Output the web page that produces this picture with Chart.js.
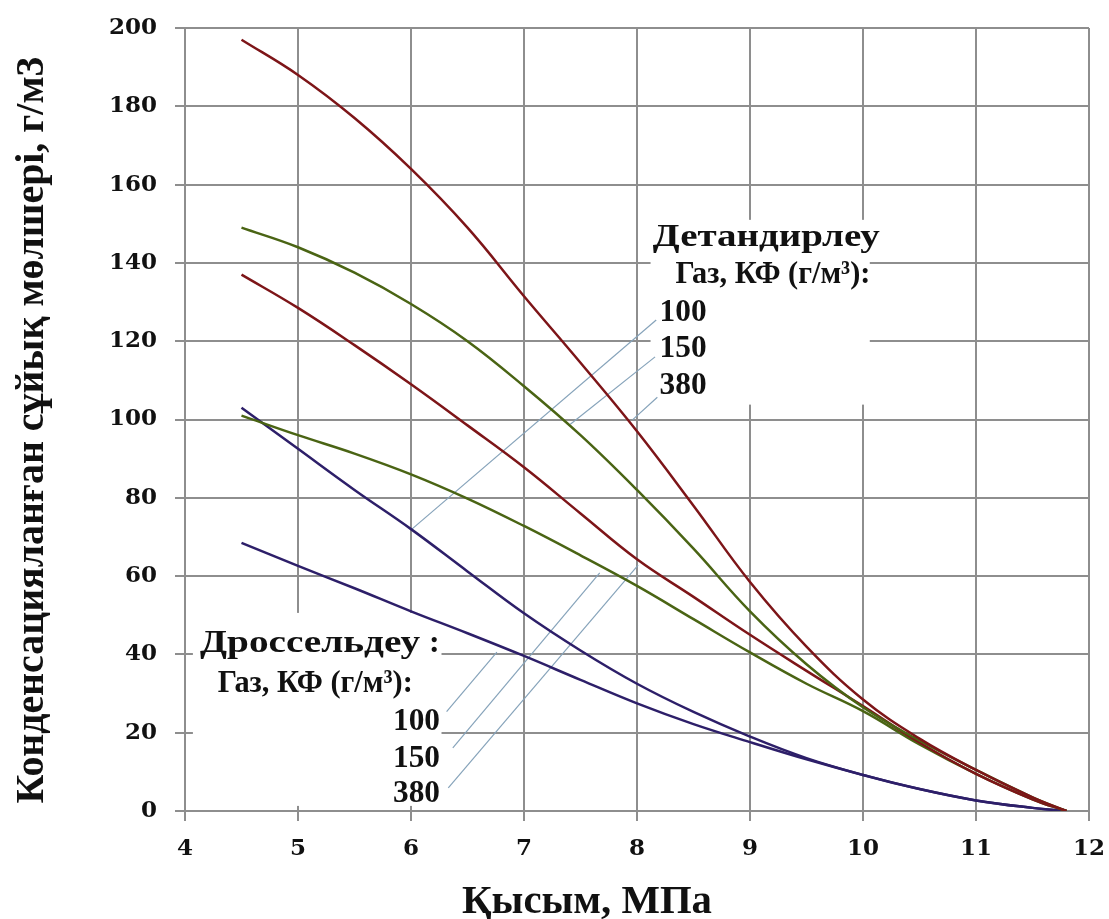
<!DOCTYPE html>
<html>
<head>
<meta charset="utf-8">
<script src="https://cdn.jsdelivr.net/npm/chart.js@4.4.1/dist/chart.umd.min.js"></script>
<style>
  body { margin: 0; background: #fff; }
  canvas { display: block; }
</style>
</head>
<body>
<canvas id="chart" width="1109" height="919"></canvas>
<script>
// pressure, MPa
const pressure = [4.5, 5, 5.5, 6, 6.5, 7, 7.5, 8, 8.5, 9, 9.5, 10, 10.5, 11, 11.5, 11.8];

// Детандирлеу, gas KF 100 / 150 / 380 g/m3
const detand100 = [103, 92.5, 82, 72, 61.2, 50.5, 41, 32.5, 25.3, 19, 13.5, 9.2, 5.6, 2.7, 0.8, 0];
const detand150 = [149, 144, 137.5, 129.5, 120, 108.5, 96, 82, 67, 51, 37.5, 26.5, 18, 10.5, 3.5, 0];
const detand380 = [197, 188, 177, 164, 149, 131.5, 114.5, 97, 78, 58.5, 42, 28.5, 18.5, 10.5, 3.5, 0];

// Дроссельдеу, gas KF 100 / 150 / 380 g/m3
const dross100 = [68.5, 62.6, 56.9, 51, 45.4, 39.6, 33.5, 27.5, 22.2, 17.6, 13.2, 9.2, 5.6, 2.7, 0.8, 0];
const dross150 = [101, 96, 91.3, 86, 79.8, 72.8, 65.3, 57.5, 49, 40.5, 32.5, 25.5, 17, 9.5, 3, 0];
const dross380 = [137, 128.5, 119, 109, 98.5, 87.8, 76, 64.3, 54.7, 45, 35.8, 26.8, 17.5, 9.5, 3, 0];

const kfLabels = ['100', '150', '380'];

const RED = '#7d1518';
const GREEN = '#4a6414';
const PURPLE = '#2d1f69';

const toPoints = (ys) => ys.map((v, i) => ({ x: pressure[i], y: v }));

const line = (data, color) => ({
  data: toPoints(data),
  borderColor: color,
  borderWidth: 2.5,
  pointRadius: 0,
  tension: 0.4,
  fill: false,
});

// areas behind the two captions where the grid is blanked: [x0, x1, y0, y1]
const blanks = [
  [8.12, 10.06, 103.8, 151],
  [4.07, 6.27, 1.3, 50.6],
];

// leader lines from captions to curves: [x0, y0, x1, y1]
const leaders = [
  [8.17, 125.4, 6.0, 71.8],
  [8.16, 116.0, 7.41, 98.8],
  [8.18, 105.7, 7.96, 99.9],
  [6.315, 25.4, 6.76, 40.6],
  [6.37, 16.1, 7.67, 60.8],
  [6.33, 5.9, 8.01, 62.8],
];

function stretchText(ctx, text, x, y, width, align) {
  const w = ctx.measureText(text).width;
  ctx.save();
  ctx.translate(x, y);
  ctx.scale(width / w, 1);
  ctx.textAlign = align || 'left';
  ctx.fillText(text, 0, 0);
  ctx.restore();
}

const overlay = {
  id: 'overlay',
  beforeDatasetsDraw(chart) {
    const { ctx, scales: { x, y } } = chart;
    ctx.save();
    ctx.fillStyle = '#fff';
    blanks.forEach((b) => {
      const l = x.getPixelForValue(b[0]);
      const r = x.getPixelForValue(b[1]);
      const t = y.getPixelForValue(b[3]);
      const bt = y.getPixelForValue(b[2]);
      ctx.fillRect(l, t, r - l, bt - t);
    });
    ctx.strokeStyle = '#86a3ba';
    ctx.lineWidth = 1.2;
    leaders.forEach((s) => {
      ctx.beginPath();
      ctx.moveTo(x.getPixelForValue(s[0]), y.getPixelForValue(s[1]));
      ctx.lineTo(x.getPixelForValue(s[2]), y.getPixelForValue(s[3]));
      ctx.stroke();
    });
    ctx.restore();
  },
  afterDraw(chart) {
    const { ctx, scales: { x, y } } = chart;
    ctx.save();
    ctx.fillStyle = '#111';
    ctx.textBaseline = 'alphabetic';
    ctx.font = 'bold 32px "Liberation Serif"';

    // Детандирлеу caption
    stretchText(ctx, 'Детандирлеу', x.getPixelForValue(8.14), y.getPixelForValue(144.3), 227);
    stretchText(ctx, 'Газ, КФ (г/м³):', x.getPixelForValue(8.34), y.getPixelForValue(134.9), 195);
    [125.2, 116.0, 106.5].forEach((v, i) => {
      stretchText(ctx, kfLabels[i], x.getPixelForValue(8.2), y.getPixelForValue(v), 47);
    });

    // Дроссельдеу caption
    stretchText(ctx, 'Дроссельдеу', x.getPixelForValue(4.133), y.getPixelForValue(40.6), 220);
    ctx.fillText(':', x.getPixelForValue(6.16), y.getPixelForValue(40.6));
    stretchText(ctx, 'Газ, КФ (г/м³):', x.getPixelForValue(4.29), y.getPixelForValue(30.4), 195);
    [20.7, 11.2, 2.3].forEach((v, i) => {
      stretchText(ctx, kfLabels[i], x.getPixelForValue(6.257), y.getPixelForValue(v), 47, 'right');
    });

    // axis titles
    ctx.font = 'bold 40px "Liberation Serif"';
    stretchText(ctx, 'Қысым, МПа', 587, 913, 250, 'center');
    ctx.save();
    ctx.translate(43, 430);
    ctx.rotate(-Math.PI / 2);
    stretchText(ctx, 'Конденсацияланған сұйық мөлшері, г/м3', 0, 0, 747, 'center');
    ctx.restore();
    ctx.restore();
  },
};

const tickFont = { family: 'DejaVu Serif', size: 23, weight: 'bold' };
const gridStyle = { color: '#8e8e8e', lineWidth: 2, tickLength: 10 };

new Chart(document.getElementById('chart'), {
  type: 'line',
  data: {
    datasets: [
      line(detand380, RED),
      line(detand150, GREEN),
      line(dross380, RED),
      line(dross150, GREEN),
      line(detand100, PURPLE),
      line(dross100, PURPLE),
    ],
  },
  options: {
    responsive: false,
    animation: false,
    layout: { padding: { left: 0, top: 28, right: 20, bottom: 0 } },
    plugins: { legend: { display: false }, tooltip: { enabled: false } },
    scales: {
      x: {
        type: 'linear',
        min: 4,
        max: 12,
        ticks: { stepSize: 1, color: '#111', font: tickFont, padding: 14 },
        grid: gridStyle,
        border: { color: '#8e8e8e', width: 2 },
        afterFit: (scale) => {
          scale.height = 108;
          scale.paddingLeft = 0;
          scale.paddingRight = 0;
        },
      },
      y: {
        min: 0,
        max: 200,
        ticks: { stepSize: 20, color: '#111', font: tickFont, padding: 18 },
        grid: gridStyle,
        border: { color: '#8e8e8e', width: 2 },
        afterFit: (scale) => {
          scale.width = 185;
          scale.paddingTop = 0;
          scale.paddingBottom = 0;
        },
      },
    },
  },
  plugins: [overlay],
});
</script>
</body>
</html>
